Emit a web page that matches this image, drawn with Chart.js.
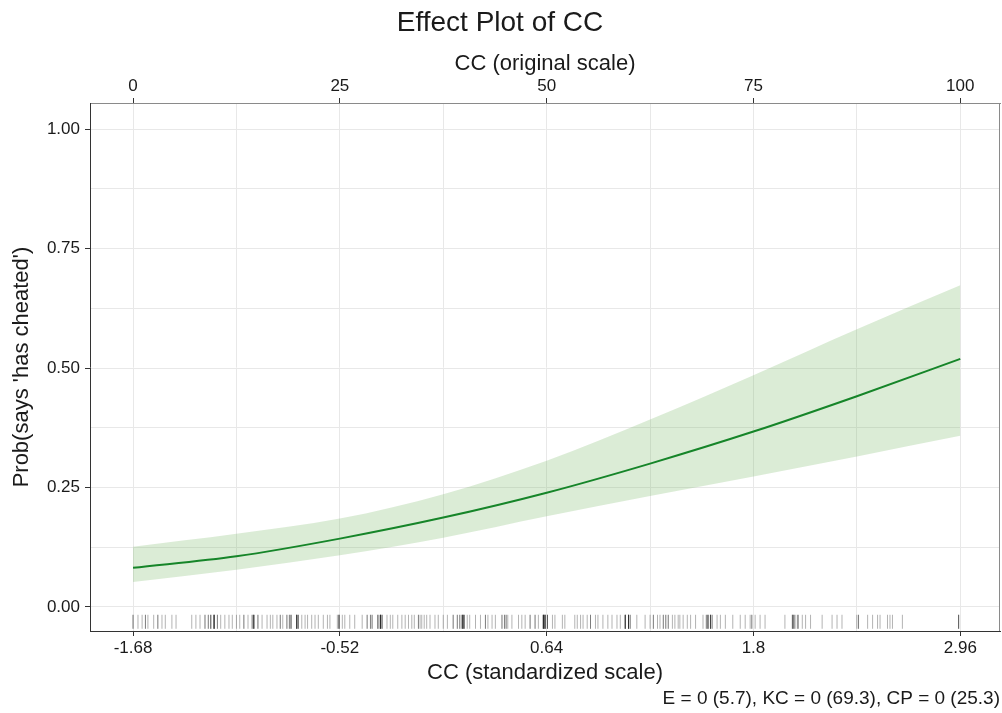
<!DOCTYPE html>
<html>
<head>
<meta charset="utf-8">
<script src="https://cdn.jsdelivr.net/npm/chart.js@4.4.1/dist/chart.umd.min.js"></script>
<style>
  html, body { margin: 0; padding: 0; background: #fff; }
  canvas { display: block; }
</style>
</head>
<body>
<canvas id="effect" width="1002" height="713"></canvas>
<script>
// CC on its original scale (0-100), with fitted probability and 95% band
var fitCC = [0, 12.5, 25, 37.5, 50, 62.5, 75, 87.5, 100];
var fitP  = [0.082, 0.106, 0.143, 0.187, 0.239, 0.300, 0.367, 0.441, 0.519];
var fitLo = [0.052, 0.078, 0.108, 0.145, 0.190, 0.232, 0.273, 0.315, 0.358];
var fitHi = [0.126, 0.153, 0.185, 0.236, 0.306, 0.392, 0.485, 0.581, 0.673];

// observed CC values (original scale) and how many cases sit at each
var rugCC = [0, 0.6, 1.1, 1.5, 1.8, 2.5, 3.0, 3.5, 3.9, 4.7, 5.2, 7.1, 7.6, 8.1, 8.7, 9.1, 9.4, 9.8, 10.2, 10.6,
  11.1, 11.6, 12.0, 12.5, 12.9, 13.4, 13.9, 14.4, 14.6, 15.1, 15.6, 16.2, 16.6, 16.9, 17.4, 17.8, 18.1, 18.6, 18.9, 19.1,
  19.8, 20.0, 20.4, 20.8, 21.1, 21.6, 22.0, 22.4, 23.0, 23.5, 23.8, 24.7, 24.9, 25.3, 25.6, 26.2, 26.8, 27.7, 28.3, 28.7,
  28.9, 29.6, 29.9, 30.1, 30.7, 31.1, 31.4, 32.0, 32.5, 32.9, 33.3, 33.7, 34.0, 34.5, 34.7, 34.9, 35.2, 35.5, 35.9, 36.5,
  36.9, 37.5, 38.0, 38.7, 39.2, 39.5, 39.8, 40.0, 40.4, 40.7, 41.4, 42.0, 42.6, 42.9, 43.4, 43.8, 44.6, 44.9, 45.1, 45.3,
  45.8, 46.6, 47.0, 47.4, 48.0, 48.6, 49.0, 49.6, 49.8, 50.1, 50.7, 51.0, 51.9, 52.2, 53.4, 53.7, 54.1, 54.4, 54.9, 55.3,
  55.9, 56.2, 56.8, 57.4, 57.9, 58.5, 58.9, 59.5, 59.9, 60.1, 60.9, 61.9, 62.5, 62.9, 63.4, 63.7, 64.1, 64.4, 64.7, 65.2,
  65.5, 65.9, 66.1, 66.5, 67.0, 67.4, 68.0, 68.9, 69.3, 69.5, 69.8, 70.0, 70.6, 71.0, 71.6, 72.5, 73.4, 74.0, 74.6, 74.8,
  75.2, 75.8, 76.4, 78.8, 79.7, 79.8, 80.0, 80.3, 80.4, 80.9, 81.3, 81.9, 83.3, 84.5, 85.1, 85.7, 87.5, 87.7, 88.8, 89.4,
  90.0, 90.3, 91.2, 91.5, 91.8, 93.0, 99.8];
var rugN = [2, 1, 1, 2, 1, 1, 2, 1, 1, 1, 1, 1, 1, 1, 2, 2, 3, 6, 2, 1,
  1, 1, 1, 1, 1, 2, 1, 2, 5, 2, 1, 1, 1, 1, 1, 2, 1, 2, 2, 3,
  6, 2, 1, 1, 1, 1, 1, 1, 1, 1, 1, 1, 4, 1, 1, 1, 1, 1, 2, 2,
  2, 3, 6, 3, 1, 1, 1, 1, 1, 1, 1, 1, 1, 2, 1, 1, 1, 1, 1, 1,
  1, 1, 1, 2, 2, 2, 5, 5, 1, 1, 1, 1, 2, 1, 1, 1, 2, 2, 2, 1,
  1, 1, 1, 1, 2, 2, 1, 6, 6, 3, 1, 1, 1, 1, 1, 1, 1, 1, 1, 2,
  1, 1, 1, 1, 1, 1, 1, 5, 5, 2, 1, 1, 1, 2, 1, 1, 2, 2, 2, 1,
  1, 1, 1, 1, 1, 1, 1, 1, 2, 4, 4, 2, 1, 1, 1, 1, 1, 1, 1, 2,
  1, 1, 1, 1, 2, 3, 2, 1, 2, 1, 1, 1, 1, 1, 1, 1, 1, 2, 1, 1,
  1, 1, 1, 1, 1, 1, 3];

// axis ticks
var origTicks = [0, 12.5, 25, 37.5, 50, 62.5, 75, 87.5, 100];
var stdTicks = [-1.68, -0.52, 0.64, 1.8, 2.96];
var probTicks = [0, 0.125, 0.25, 0.375, 0.5, 0.625, 0.75, 0.875, 1];

// original -> standardized: 0 maps to -1.68, 100 maps to 2.96
var stdLow = -1.68, stdPerUnit = (2.96 - -1.68) / 100;
var ccMin = -5.2, ccMax = 104.8;

var rugY = -0.031;
var rugPts = [];
for (var i = 0; i < rugCC.length; i++) {
    for (var k = 0; k < rugN[i]; k++) rugPts.push({x: rugCC[i], y: rugY});
}

function pts(ys) {
    return fitCC.map(function (c, i) { return {x: c, y: ys[i]}; });
}

var txt = '#1a1a1a';
var fam = "'Liberation Sans', Arial, sans-serif";
var gridCol = '#e8e8e8';

// no label overhang padding, the plot box is fixed
function noPad(s) {
    s.paddingLeft = 0;
    s.paddingRight = 0;
    s.paddingTop = 0;
    s.paddingBottom = 0;
}

var rightEdge = {
    id: 'rightEdge',
    afterDraw: function (chart) {
        var a = chart.chartArea, ctx = chart.ctx;
        ctx.save();
        ctx.strokeStyle = '#8a8a8a';
        ctx.lineWidth = 1;
        ctx.beginPath();
        ctx.moveTo(Math.round(a.right) - 0.5, a.top);
        ctx.lineTo(Math.round(a.right) - 0.5, a.bottom);
        ctx.stroke();
        ctx.restore();
    }
};

var graph = document.getElementById('effect').getContext('2d');
var myChart = new Chart(graph, {
    type: 'line',
    data: {
        datasets: [{
            label: 'fit',
            data: pts(fitP),
            xAxisID: 'x2',
            borderColor: '#168529',
            borderWidth: 2,
            pointRadius: 0,
            cubicInterpolationMode: 'monotone',
            fill: false,
            order: 0
        }, {
            label: 'rug',
            data: rugPts,
            xAxisID: 'x2',
            showLine: false,
            pointStyle: 'line',
            rotation: 90,
            pointRadius: 7,
            borderColor: 'rgba(0,0,0,0.3)',
            borderWidth: 1,
            order: 1
        }, {
            label: 'upper',
            data: pts(fitHi),
            xAxisID: 'x2',
            borderWidth: 0,
            borderColor: 'rgba(0,0,0,0)',
            pointRadius: 0,
            cubicInterpolationMode: 'monotone',
            backgroundColor: 'rgba(110,180,90,0.25)',
            fill: '+1',
            order: 2
        }, {
            label: 'lower',
            data: pts(fitLo),
            xAxisID: 'x2',
            borderWidth: 0,
            borderColor: 'rgba(0,0,0,0)',
            pointRadius: 0,
            cubicInterpolationMode: 'monotone',
            fill: false,
            order: 3
        }]
    },
    options: {
        responsive: false,
        animation: false,
        devicePixelRatio: 1,
        layout: { autoPadding: false, padding: { left: 0, right: 2, top: 0, bottom: 0 } },
        plugins: {
            legend: { display: false },
            tooltip: { enabled: false },
            title: {
                display: true,
                text: 'Effect Plot of CC',
                color: txt,
                font: { family: fam, size: 28, weight: 'normal' },
                padding: { top: 6, bottom: 0 }
            },
            subtitle: {
                display: true,
                position: 'bottom',
                align: 'end',
                text: 'E = 0 (5.7), KC = 0 (69.3), CP = 0 (25.3)',
                color: txt,
                font: { family: fam, size: 19, weight: 'normal' },
                padding: { top: 0, bottom: 3 }
            }
        },
        scales: {
            x2: {
                type: 'linear',
                axis: 'x',
                position: 'top',
                min: ccMin,
                max: ccMax,
                afterBuildTicks: function (s) { s.ticks = origTicks.map(function (v) { return {value: v}; }); },
                afterFit: function (s) { s.height = 63.4; noPad(s); },
                ticks: {
                    color: txt,
                    font: { family: fam, size: 17 },
                    padding: 1,
                    maxRotation: 0,
                    autoSkip: false,
                    callback: function (v) { return v % 25 === 0 ? String(v) : ''; }
                },
                grid: {
                    color: gridCol,
                    lineWidth: 1,
                    tickLength: 5,
                    tickColor: function (c) { return c.tick && c.tick.value % 25 === 0 ? '#333' : 'rgba(0,0,0,0)'; }
                },
                border: { color: '#8a8a8a', width: 1 },
                title: {
                    display: true,
                    text: 'CC (original scale)',
                    color: txt,
                    font: { family: fam, size: 22 },
                    padding: { top: 11, bottom: 0 }
                }
            },
            x: {
                type: 'linear',
                position: 'bottom',
                min: stdLow + ccMin * stdPerUnit,
                max: stdLow + ccMax * stdPerUnit,
                afterBuildTicks: function (s) { s.ticks = stdTicks.map(function (v) { return {value: v}; }); },
                afterFit: function (s) { s.height = 56.2; noPad(s); },
                ticks: {
                    color: txt,
                    font: { family: fam, size: 17 },
                    padding: 2,
                    maxRotation: 0,
                    autoSkip: false,
                    callback: function (v) { return String(v); }
                },
                grid: { drawOnChartArea: false, tickLength: 5, tickColor: '#333' },
                border: { color: '#333', width: 1 },
                title: {
                    display: true,
                    text: 'CC (standardized scale)',
                    color: txt,
                    font: { family: fam, size: 22 },
                    padding: { top: 0, bottom: 1 }
                }
            },
            y: {
                type: 'linear',
                position: 'left',
                min: -0.0503,
                max: 1.0545,
                afterBuildTicks: function (s) { s.ticks = probTicks.map(function (v) { return {value: v}; }); },
                afterFit: function (s) { s.width = 90; noPad(s); },
                ticks: {
                    color: txt,
                    font: { family: fam, size: 17 },
                    padding: 5,
                    callback: function (v) { return (v * 4) % 1 === 0 ? v.toFixed(2) : ''; }
                },
                grid: {
                    color: gridCol,
                    lineWidth: 1,
                    tickLength: 5,
                    tickColor: function (c) { return c.tick && (c.tick.value * 4) % 1 === 0 ? '#333' : 'rgba(0,0,0,0)'; }
                },
                border: { color: '#333', width: 1 },
                title: {
                    display: true,
                    text: "Prob(says 'has cheated')",
                    color: txt,
                    font: { family: fam, size: 22 },
                    padding: { top: 9, bottom: 0 }
                }
            }
        }
    },
    plugins: [rightEdge]
});
</script>
</body>
</html>
